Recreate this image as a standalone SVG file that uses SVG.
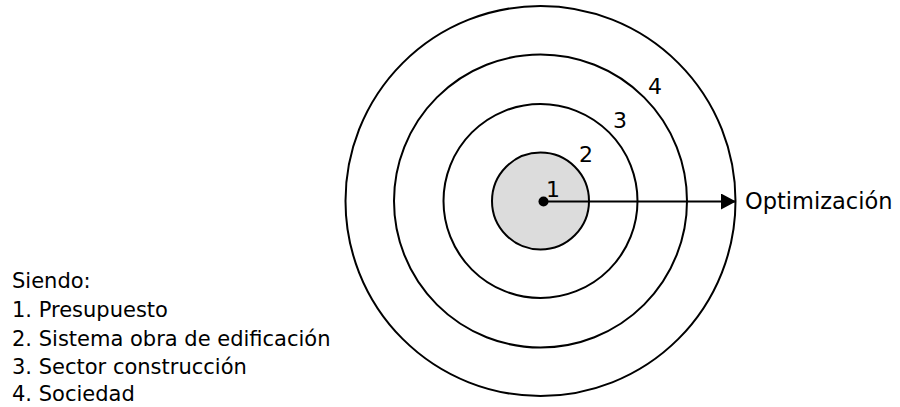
<svg xmlns="http://www.w3.org/2000/svg" width="900" height="407" viewBox="0 0 900 407">
<style>
.ring{fill:none;stroke:#000;stroke-width:2}
.core{fill:#dcdcdc;stroke:#000;stroke-width:2}
.t{font-family:"DejaVu Sans",sans-serif;fill:#000}
.lbl{font-size:22px}
.leg{font-size:21px}
.conn{stroke:#000;stroke-width:2;fill:none}
</style>
<defs>
<marker id="ah" markerWidth="8" markerHeight="8" refX="7.5" refY="4" orient="auto" markerUnits="strokeWidth">
<path d="M0,0 L7.5,4 L0,8 Z" fill="#000"/>
</marker>
</defs>
<g id="ring4"><circle class="ring" cx="540.5" cy="201" r="195"/><text class="t lbl" x="648" y="94">4</text></g>
<g id="ring3"><circle class="ring" cx="540.5" cy="201" r="146.5"/><text class="t lbl" x="613" y="128">3</text></g>
<g id="ring2"><circle class="ring" cx="540.5" cy="201" r="97"/><text class="t lbl" x="579" y="162">2</text></g>
<g id="ring1"><circle class="core" cx="540.5" cy="201" r="48.5"/><text class="t lbl" x="546" y="197">1</text></g>
<g id="connectors">
<circle cx="543.5" cy="201.5" r="5" fill="#000"/>
<line class="conn" x1="543.5" y1="201.5" x2="736" y2="201.5" marker-end="url(#ah)"/>
</g>
<g id="optimizacion"><text class="t" font-size="22.5" x="745" y="209">Optimización</text></g>
<g id="legend" class="t leg">
<text x="12" y="288">Siendo:</text>
<text x="12" y="317">1. Presupuesto</text>
<text x="12" y="345.5">2. Sistema obra de edificación</text>
<text x="12" y="374">3. Sector construcción</text>
<text x="12" y="401">4. Sociedad</text>
</g>
</svg>
